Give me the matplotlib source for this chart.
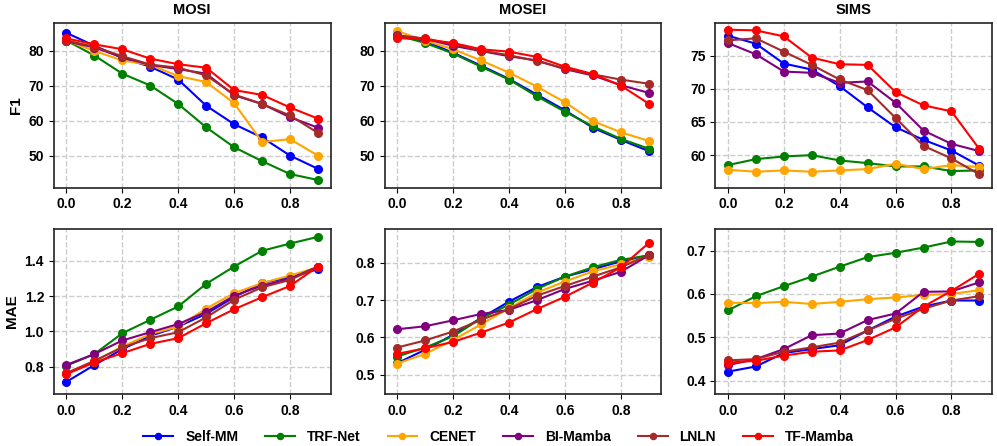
import matplotlib
matplotlib.use("Agg")
import matplotlib.pyplot as plt

plt.rcParams['font.family'] = ['Liberation Sans', 'DejaVu Sans']
plt.rcParams['font.weight'] = 'bold'

rates = [0.0, 0.1, 0.2, 0.3, 0.4, 0.5, 0.6, 0.7, 0.8, 0.9]
models = ["Self-MM", "TRF-Net", "CENET", "BI-Mamba", "LNLN", "TF-Mamba"]
colors = ["blue", "green", "orange", "purple", "brown", "red"]
datasets = ["MOSI", "MOSEI", "SIMS"]

# F1 scores
mosi_f1 = [
    [85.2, 81.5, 78.0, 75.5, 71.8, 64.3, 59.0, 55.2, 50.0, 46.2],
    [83.0, 78.7, 73.5, 70.1, 64.8, 58.1, 52.4, 48.4, 44.7, 43.0],
    [83.0, 80.0, 77.3, 76.0, 72.8, 71.1, 65.0, 53.9, 54.7, 50.0],
    [82.8, 81.0, 78.2, 76.0, 74.8, 73.5, 67.3, 64.8, 61.0, 58.0],
    [83.0, 81.2, 78.5, 76.1, 75.2, 73.0, 67.5, 64.8, 61.5, 56.5],
    [83.6, 81.9, 80.5, 77.8, 76.2, 75.2, 68.8, 67.4, 63.8, 60.6],
]
mosei_f1 = [
    [84.5, 82.8, 79.5, 75.8, 72.0, 67.5, 63.0, 58.0, 54.5, 51.3],
    [84.5, 82.3, 79.3, 75.5, 71.8, 67.0, 62.6, 58.4, 54.8, 52.0],
    [85.7, 83.0, 80.5, 77.3, 73.8, 69.8, 65.3, 59.9, 56.7, 54.2],
    [84.5, 83.5, 81.5, 80.0, 78.5, 77.3, 74.8, 73.0, 70.2, 68.0],
    [84.3, 83.6, 82.0, 80.1, 78.8, 77.1, 75.0, 73.3, 71.8, 70.6],
    [83.7, 83.3, 82.3, 80.5, 79.8, 78.3, 75.5, 73.4, 70.1, 64.9],
]
sims_f1 = [
    [78.0, 76.8, 73.8, 72.9, 70.4, 67.2, 64.2, 62.3, 60.7, 58.4],
    [58.5, 59.4, 59.8, 60.0, 59.2, 58.8, 58.3, 58.3, 57.6, 57.7],
    [57.8, 57.5, 57.7, 57.5, 57.7, 57.9, 58.7, 57.9, 58.5, 58.2],
    [76.9, 75.2, 72.6, 72.4, 70.9, 71.1, 67.9, 63.7, 61.7, 60.6],
    [77.3, 77.6, 75.6, 73.6, 71.4, 69.8, 65.6, 61.4, 59.5, 57.1],
    [78.9, 78.8, 77.9, 74.7, 73.7, 73.6, 69.5, 67.5, 66.6, 60.9],
]

# MAE
mosi_mae = [
    [0.715, 0.810, 0.900, 0.975, 1.028, 1.100, 1.195, 1.275, 1.306, 1.353],
    [0.806, 0.872, 0.990, 1.066, 1.142, 1.270, 1.368, 1.457, 1.498, 1.536],
    [0.764, 0.830, 0.915, 0.985, 1.028, 1.130, 1.217, 1.274, 1.317, 1.364],
    [0.811, 0.872, 0.949, 0.996, 1.042, 1.111, 1.202, 1.260, 1.298, 1.368],
    [0.764, 0.834, 0.910, 0.962, 0.996, 1.080, 1.180, 1.250, 1.292, 1.366],
    [0.758, 0.825, 0.877, 0.930, 0.962, 1.047, 1.126, 1.194, 1.258, 1.368],
]
mosei_mae = [
    [0.531, 0.567, 0.607, 0.652, 0.696, 0.735, 0.763, 0.783, 0.804, 0.820],
    [0.549, 0.573, 0.603, 0.651, 0.688, 0.730, 0.763, 0.788, 0.808, 0.820],
    [0.530, 0.556, 0.593, 0.635, 0.678, 0.720, 0.750, 0.777, 0.796, 0.817],
    [0.622, 0.630, 0.646, 0.663, 0.674, 0.700, 0.730, 0.752, 0.776, 0.820],
    [0.573, 0.592, 0.616, 0.647, 0.676, 0.712, 0.738, 0.763, 0.788, 0.821],
    [0.556, 0.571, 0.588, 0.613, 0.640, 0.676, 0.709, 0.747, 0.788, 0.853],
]
sims_mae = [
    [0.421, 0.433, 0.464, 0.473, 0.482, 0.516, 0.548, 0.571, 0.585, 0.585],
    [0.562, 0.595, 0.618, 0.640, 0.663, 0.685, 0.695, 0.707, 0.721, 0.720],
    [0.580, 0.579, 0.582, 0.577, 0.582, 0.588, 0.592, 0.598, 0.600, 0.609],
    [0.436, 0.450, 0.473, 0.505, 0.509, 0.540, 0.555, 0.605, 0.606, 0.627],
    [0.447, 0.450, 0.467, 0.477, 0.488, 0.516, 0.543, 0.566, 0.585, 0.595],
    [0.442, 0.446, 0.458, 0.467, 0.470, 0.494, 0.523, 0.571, 0.607, 0.647],
]

f1_all = [mosi_f1, mosei_f1, sims_f1]
mae_all = [mosi_mae, mosei_mae, sims_mae]
f1_lims = [(40.8, 88.1), (40.8, 88.1), (55.1, 79.95)]
mae_lims = [(0.647, 1.581), (0.449, 0.891), (0.37, 0.75)]

fig, axes = plt.subplots(2, 3, figsize=(9.97, 4.46), dpi=100)

for j in range(3):
    for row, data, lims in [(0, f1_all[j], f1_lims[j]), (1, mae_all[j], mae_lims[j])]:
        ax = axes[row, j]
        for i in range(len(models)):
            ax.plot(rates, data[i], marker='o', color=colors[i], label=models[i],
                    linewidth=1.5, markersize=5.5)
        ax.set_ylim(lims)
        ax.grid(True, linestyle='--', color='#cccccc', linewidth=1)
        ax.set_axisbelow(True)
        ax.set_xticks([0.0, 0.2, 0.4, 0.6, 0.8])
        ax.tick_params(labelsize=10)
        for s in ax.spines.values():
            s.set_linewidth(1.2)
            s.set_color('#222222')
        for lab in ax.get_xticklabels() + ax.get_yticklabels():
            lab.set_fontweight('bold')
    axes[0, j].set_title(datasets[j], fontsize=10.5, fontweight='bold')

axes[0, 0].set_ylabel("F1", fontsize=11, fontweight='bold')
axes[1, 0].set_ylabel("MAE", fontsize=11, fontweight='bold')

handles, labels = axes[0, 0].get_legend_handles_labels()
fig.legend(handles, labels, loc='center', bbox_to_anchor=(0.5, 0.021), ncol=6,
           frameon=False, prop={'weight': 'bold', 'size': 10}, columnspacing=1.95,
           handlelength=2.15, handletextpad=0.85, markerscale=0.8)

fig.subplots_adjust(left=0.054, right=0.995, top=0.949, bottom=0.117,
                    hspace=0.25, wspace=0.195)
fig.savefig("out.png", dpi=100)
